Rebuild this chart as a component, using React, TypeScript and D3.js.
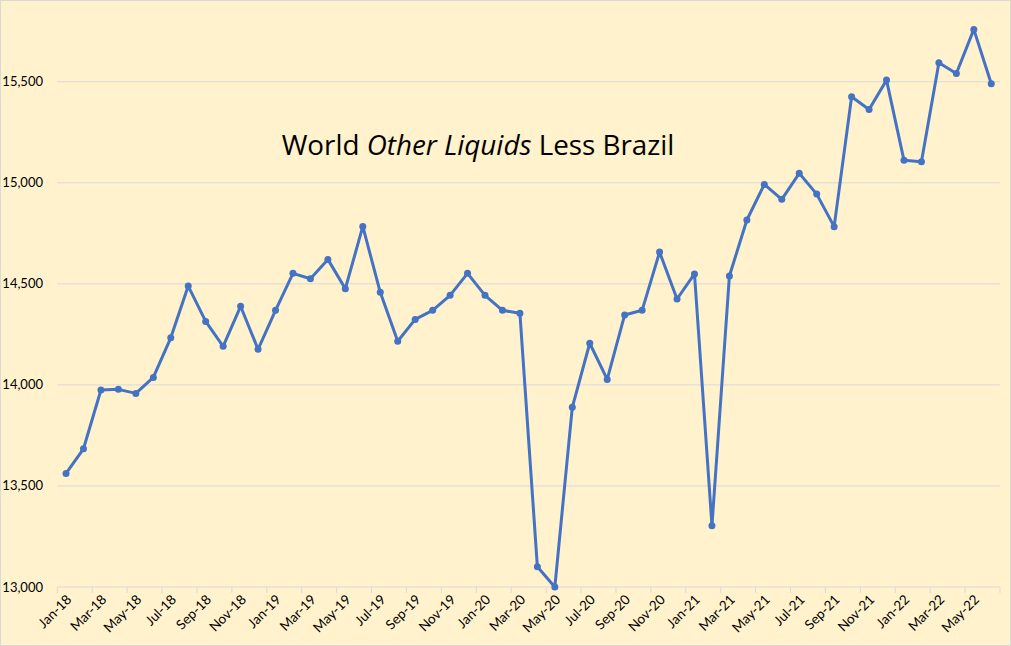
import React from "react";
import * as d3 from "d3";

const months: string[] = [
  "Jan-18","Feb-18","Mar-18","Apr-18","May-18","Jun-18","Jul-18","Aug-18","Sep-18","Oct-18","Nov-18","Dec-18",
  "Jan-19","Feb-19","Mar-19","Apr-19","May-19","Jun-19","Jul-19","Aug-19","Sep-19","Oct-19","Nov-19","Dec-19",
  "Jan-20","Feb-20","Mar-20","Apr-20","May-20","Jun-20","Jul-20","Aug-20","Sep-20","Oct-20","Nov-20","Dec-20",
  "Jan-21","Feb-21","Mar-21","Apr-21","May-21","Jun-21","Jul-21","Aug-21","Sep-21","Oct-21","Nov-21","Dec-21",
  "Jan-22","Feb-22","Mar-22","Apr-22","May-22","Jun-22",
];

const values: number[] = [
  13562, 13684, 13975, 13978, 13958, 14037, 14233, 14489, 14314, 14191, 14389, 14176,
  14369, 14552, 14525, 14621, 14476, 14784, 14458, 14216, 14324, 14369, 14443, 14552,
  14443, 14369, 14354, 13100, 13000, 13889, 14206, 14027, 14346, 14369, 14657, 14425,
  14549, 13303, 14539, 14816, 14992, 14918, 15047, 14944, 14783, 15426, 15363, 15508,
  15111, 15104, 15594, 15541, 15759, 15490,
];

const yTicks: number[] = [13000, 13500, 14000, 14500, 15000, 15500];

const W = 1011;
const H = 646;

export default function App() {
  const left = 57.3;
  const right = 1000;
  const x = d3.scaleBand<string>().domain(months).range([left, right]).padding(0);
  const y = d3.scaleLinear().domain([13000, 15900]).range([587, 0.9]);
  const cx = (m: string) => (x(m) as number) + x.bandwidth() / 2;
  const line = d3
    .line<number>()
    .x((_, i) => cx(months[i]))
    .y((d) => y(d));
  const fmt = d3.format(",");
  const font = "Lato, 'Noto Sans', sans-serif";
  const titleFont = "'Open Sans', 'Noto Sans', sans-serif";

  return (
    <svg
      width={W}
      height={H}
      style={{ position: "absolute", left: 0, top: 0, display: "block" }}
    >
      <rect x={0.5} y={0.5} width={W - 1} height={H - 1} fill="#FFF2CC" stroke="#D9D9D9" />
      {yTicks.map((t) => (
        <g key={t}>
          <line x1={left} x2={right} y1={y(t)} y2={y(t)} stroke="#D9D9D9" strokeWidth={1} />
          <text
            x={43}
            y={y(t)}
            dy="0.35em"
            textAnchor="end"
            fontFamily={font}
            fontSize={13}
            fill="#000"
          >
            {fmt(t)}
          </text>
        </g>
      ))}
      {months.map((m, i) =>
        i % 2 === 0 ? (
          <line
            key={"t" + m}
            x1={x(m) as number}
            x2={x(m) as number}
            y1={587}
            y2={593}
            stroke="#D9D9D9"
          />
        ) : null
      )}
      <line x1={right} x2={right} y1={587} y2={593} stroke="#D9D9D9" />
      {months.map((m, i) =>
        i % 2 === 0 ? (
          <text
            key={"l" + m}
            transform={`translate(${cx(m) + 3},${597}) rotate(-45)`}
            textAnchor="end"
            dy="0.35em"
            fontFamily={font}
            fontSize={13.5}
            fill="#000"
          >
            {m}
          </text>
        ) : null
      )}
      <path
        d={line(values) as string}
        fill="none"
        stroke="#4472C4"
        strokeWidth={3}
        strokeLinejoin="round"
      />
      {values.map((v, i) => (
        <circle key={i} cx={cx(months[i])} cy={y(v)} r={3.5} fill="#4472C4" />
      ))}
      <text
        x={478}
        y={155}
        textAnchor="middle"
        fontFamily={titleFont}
        fontSize={27.8}
        fill="#000"
      >
        World <tspan fontStyle="italic">Other Liquids</tspan> Less Brazil
      </text>
    </svg>
  );
}
